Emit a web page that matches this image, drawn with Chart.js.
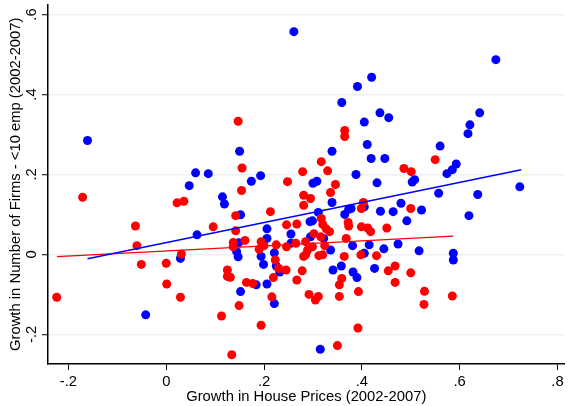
<!DOCTYPE html>
<html>
<head>
<meta charset="utf-8">
<script src="https://cdn.jsdelivr.net/npm/chart.js@4/dist/chart.umd.min.js"></script>
<style>
  body { margin: 0; background: #fff; }
  #wrap { width: 569px; height: 406px; }
</style>
</head>
<body>
<div id="wrap"><canvas id="scatterChart"></canvas></div>
<script>
// Blue group: house price growth (x) and firm growth (y)
const blueX = [-0.161, 0.261, 0.150, 0.060, 0.086, 0.047, 0.174, 0.193, 0.420, 0.391,
    0.359, 0.437, 0.455, 0.405, 0.411, 0.339, 0.419, 0.447, 0.388, 0.508,
    0.503, 0.308, 0.300, 0.431, 0.674, 0.641, 0.621, 0.617, 0.560, 0.593,
    0.585, 0.574, 0.723, 0.557, 0.637, 0.619, 0.587, 0.587, -0.042, 0.029,
    0.063, 0.115, 0.119, 0.152, 0.144, 0.147, 0.152, 0.184, 0.206, 0.221,
    0.206, 0.206, 0.194, 0.199, 0.221, 0.225, 0.232, 0.255, 0.255, 0.339,
    0.311, 0.294, 0.299, 0.295, 0.322, 0.336, 0.365, 0.373, 0.378, 0.405,
    0.438, 0.464, 0.480, 0.522, 0.492, 0.381, 0.415, 0.405, 0.445, 0.474,
    0.517, 0.358, 0.341, 0.382, 0.390, 0.426, 0.315, 0.148];
const blueY = [0.285, 0.557, 0.258, 0.204, 0.202, 0.172, 0.183, 0.197, 0.443, 0.420,
    0.380, 0.354, 0.342, 0.331, 0.275, 0.258, 0.240, 0.240, 0.200, 0.187,
    0.181, 0.183, 0.178, 0.179, 0.487, 0.354, 0.324, 0.302, 0.271, 0.226,
    0.212, 0.202, 0.169, 0.153, 0.150, 0.097, 0.003, -0.014, -0.151, -0.010,
    0.049, 0.144, 0.126, 0.099, 0.007, -0.006, -0.093, -0.076, -0.074, -0.123,
    0.064, 0.040, -0.005, -0.025, 0.004, -0.029, -0.044, 0.051, 0.028, 0.130,
    0.105, 0.082, 0.084, 0.044, 0.040, 0.011, 0.100, 0.113, 0.115, 0.119,
    0.108, 0.107, 0.128, 0.111, 0.084, 0.022, 0.024, 0.003, 0.014, 0.026,
    0.009, -0.029, -0.039, -0.044, -0.058, -0.035, -0.237, 0.029];

// Red group
const redX = [0.147, 0.155, 0.248, 0.279, 0.365, 0.365, 0.317, 0.330, 0.486, 0.501,
    0.550, 0.346, 0.585, -0.171, 0.022, 0.036, -0.063, -0.060, -0.051, 0.000,
    0.001, -0.224, 0.029, 0.031, 0.096, 0.154, 0.142, 0.142, 0.137, 0.137,
    0.161, 0.125, 0.125, 0.131, 0.149, 0.113, 0.134, 0.194, 0.164, 0.177,
    0.216, 0.219, 0.213, 0.194, 0.190, 0.200, 0.225, 0.223, 0.230, 0.245,
    0.246, 0.246, 0.267, 0.265, 0.267, 0.281, 0.278, 0.281, 0.281, 0.336,
    0.295, 0.317, 0.320, 0.327, 0.334, 0.302, 0.316, 0.324, 0.285, 0.299,
    0.289, 0.285, 0.312, 0.320, 0.399, 0.403, 0.372, 0.373, 0.399, 0.412,
    0.418, 0.451, 0.500, 0.368, 0.398, 0.430, 0.364, 0.359, 0.354, 0.468,
    0.454, 0.500, 0.468, 0.393, 0.292, 0.305, 0.311, 0.354, 0.528, 0.527,
    0.392, 0.350];
const redY = [0.333, 0.216, 0.182, 0.207, 0.310, 0.295, 0.232, 0.209, 0.215, 0.207,
    0.237, 0.175, -0.104, 0.143, 0.129, 0.133, 0.071, 0.022, -0.025, -0.022,
    -0.074, -0.107, -0.107, 0.001, 0.069, 0.160, 0.097, 0.059, 0.030, 0.019,
    0.035, -0.039, -0.055, -0.057, -0.128, -0.154, -0.251, -0.177, -0.070, -0.073,
    -0.106, -0.058, 0.107, 0.032, 0.013, 0.022, 0.024, -0.014, -0.035, -0.039,
    0.074, 0.019, 0.076, 0.028, -0.064, -0.005, -0.041, 0.148, 0.123, 0.155,
    0.140, 0.090, 0.075, 0.064, 0.057, 0.052, 0.044, 0.022, 0.032, 0.019,
    0.011, -0.001, -0.003, -0.001, 0.115, 0.130, 0.080, 0.071, 0.069, 0.066,
    0.057, 0.066, 0.115, 0.040, -0.001, -0.003, -0.005, -0.060, -0.076, -0.029,
    -0.041, -0.046, -0.070, -0.093, -0.100, -0.114, -0.105, -0.105, -0.092, -0.125,
    -0.184, -0.228];

// Fitted lines (end points)
const blueFitX = [-0.161, 0.726];
const blueFitY = [-0.011, 0.212];
const redFitX = [-0.2235, 0.587];
const redFitY = [-0.0055, 0.046];

const xTicks = [-0.2, 0, 0.2, 0.4, 0.6, 0.8];
const yTicks = [-0.2, 0, 0.2, 0.4, 0.6];

const xTitle = 'Growth in House Prices (2002-2007)';
const yTitle = 'Growth in Number of Firms - <10 emp (2002-2007)';

const toPoints = (xs, ys) => xs.map((x, i) => ({ x: x, y: ys[i] }));

// Stata style labels: .2 instead of 0.2
function fmt(v) {
    const s = String(Math.round(v * 10) / 10);
    return s.replace(/^(-?)0\./, '$1.');
}

const FONT = 'Liberation Sans, Arial, sans-serif';
const FSIZE = 14.8;

// y tick labels are rotated, draw them by hand
const rotatedYLabels = {
    id: 'rotatedYLabels',
    afterDraw(chart) {
        const ctx = chart.ctx;
        const y = chart.scales.y;
        ctx.save();
        ctx.fillStyle = '#000';
        ctx.font = FSIZE + 'px ' + FONT;
        ctx.textAlign = 'center';
        ctx.textBaseline = 'alphabetic';
        yTicks.forEach(v => {
            ctx.save();
            ctx.translate(35.5, y.getPixelForValue(v));
            ctx.rotate(-Math.PI / 2);
            ctx.fillText(fmt(v), 0, 0);
            ctx.restore();
        });
        ctx.restore();
    }
};

const chart = new Chart(document.getElementById('scatterChart'), {
    type: 'scatter',
    data: {
        datasets: [
            {
                data: toPoints(blueFitX, blueFitY),
                showLine: true,
                borderColor: '#0000ff',
                borderWidth: 1.5,
                pointRadius: 0,
                order: 0
            },
            {
                data: toPoints(redFitX, redFitY),
                showLine: true,
                borderColor: '#ff0000',
                borderWidth: 1.3,
                pointRadius: 0,
                order: 0
            },
            {
                data: toPoints(redX, redY),
                backgroundColor: '#ff0000',
                borderWidth: 0,
                pointRadius: 4.5,
                order: 1
            },
            {
                data: toPoints(blueX, blueY),
                backgroundColor: '#0000ff',
                borderWidth: 0,
                pointRadius: 4.5,
                order: 2
            }
        ]
    },
    options: {
        responsive: true,
        maintainAspectRatio: false,
        animation: false,
        layout: { padding: { top: 4, right: 0, left: 0, bottom: 0 } },
        plugins: {
            legend: { display: false },
            tooltip: { enabled: false }
        },
        scales: {
            x: {
                type: 'linear',
                min: -0.2418,
                max: 0.8144,
                afterBuildTicks: s => { s.ticks = xTicks.map(v => ({ value: v })); },
                afterFit: s => { s.height = 42; },
                ticks: {
                    callback: v => fmt(v),
                    color: '#000',
                    font: { family: FONT, size: FSIZE },
                    padding: 3,
                    maxRotation: 0,
                    autoSkip: false
                },
                grid: {
                    drawOnChartArea: false,
                    drawTicks: true,
                    tickLength: 6,
                    tickColor: '#000',
                    tickWidth: 1
                },
                border: { color: '#000', width: 1.5 },
                title: {
                    display: true,
                    text: xTitle,
                    color: '#000',
                    font: { family: FONT, size: FSIZE },
                    padding: { top: 0, bottom: 0 }
                }
            },
            y: {
                type: 'linear',
                min: -0.274,
                max: 0.625,
                afterBuildTicks: s => { s.ticks = yTicks.map(v => ({ value: v })); },
                afterFit: s => { s.width = 48; },
                ticks: { display: false },
                grid: {
                    color: '#eaf1f3',
                    lineWidth: 1.5,
                    tickColor: '#000',
                    tickLength: 6,
                    tickWidth: 1
                },
                border: { color: '#000', width: 1.5 },
                title: {
                    display: true,
                    text: yTitle,
                    color: '#000',
                    font: { family: FONT, size: FSIZE },
                    padding: { top: 6.8, bottom: 0 }
                }
            }
        }
    },
    plugins: [rotatedYLabels]
});
</script>
</body>
</html>
